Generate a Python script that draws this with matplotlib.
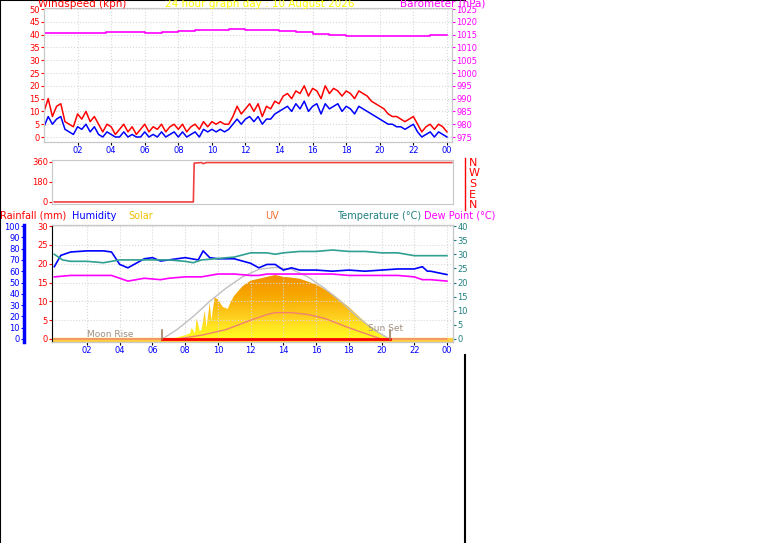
import numpy as np
import matplotlib.pyplot as plt
from matplotlib.colors import LinearSegmentedColormap

# ---- data ----
wind_hours = np.arange(0, 24.01, 0.25)
wind_gust = [10, 15, 8, 12, 13, 6, 5, 4, 9, 7, 10, 6, 8, 5, 2, 5, 4, 1, 3, 5, 2, 4, 1, 3, 5, 2, 4, 3, 5, 2,
             4, 5, 3, 5, 2, 4, 5, 3, 6, 4, 6, 5, 6, 5, 5, 8, 12, 9, 11, 13, 10, 13, 8, 12, 11, 14, 13, 16, 17, 15,
             18, 17, 20, 16, 19, 18, 15, 20, 17, 19, 18, 16, 18, 17, 15, 18, 17, 16, 14, 13, 12, 11, 9, 8, 8, 7,
             6, 7, 8, 5, 2, 4, 5, 3, 5, 4, 2]
wind_speed = [4, 8, 5, 7, 8, 3, 2, 1, 4, 3, 5, 2, 4, 1, 0, 2, 1, 0, 0, 2, 0, 1, 0, 0, 2, 0, 1, 0, 2, 0,
              1, 2, 0, 2, 0, 1, 2, 0, 3, 2, 3, 2, 3, 2, 3, 5, 7, 5, 7, 8, 6, 8, 5, 7, 7, 9, 10, 11, 12, 10,
              13, 11, 14, 10, 12, 13, 9, 13, 11, 12, 13, 10, 12, 11, 9, 12, 11, 10, 9, 8, 7, 6, 5, 5, 4, 4,
              3, 4, 5, 2, 0, 1, 2, 0, 2, 1, 0]
baro_hours = [0, 3.5, 3.7, 6, 7, 8, 9, 10, 11, 12, 13, 14, 15, 16, 17, 18, 19, 20, 21, 22, 23, 24]
baro = [1015.6, 1015.6, 1016, 1015.6, 1016, 1016.5, 1016.9, 1017, 1017.3, 1016.9, 1016.8, 1016.3, 1016, 1015.4,
        1014.9, 1014.6, 1014.5, 1014.3, 1014.3, 1014.6, 1014.9, 1014.9]

dir_hours = [0, 8.5, 8.55, 9.0, 9.1, 9.3, 24.3]
wind_dir = [0, 0, 350, 355, 345, 355, 355]

hum_hours = [0, 0.4, 1, 2, 3, 3.5, 4, 4.5, 5, 5.5, 6, 6.5, 7, 8, 8.8, 9.1, 9.5, 10, 11, 12, 12.5, 13,
             13.5, 14, 14.5, 15, 16, 17, 18, 19, 20, 21, 22, 22.5, 22.8, 23, 24]
humidity = [64, 74, 77, 78, 78, 77, 66, 63, 67, 71, 72, 69, 70, 72, 70, 78, 72, 71, 71, 67, 63, 66,
            66, 61, 63, 61, 61, 60, 61, 60, 61, 62, 62, 64, 60, 60, 57]
temp_hours = [0, 0.5, 1, 2, 3, 4, 5, 6, 7, 8, 8.5, 9, 10, 11, 12, 13, 13.5, 14, 15, 16, 17, 18, 19,
              20, 21, 22, 23, 24]
temperature = [30, 28, 27.5, 27.5, 27, 28, 28, 28, 28, 27.5, 27, 28, 28.5, 29, 30.5, 30.5, 30, 30.5, 31,
               31, 31.5, 31, 31, 30.5, 30.5, 29.5, 29.5, 29.5]
dew_hours = [0, 1, 2, 3, 3.5, 4.5, 5.5, 6.5, 7, 8, 9, 10, 11, 12, 12.5, 13, 14, 15, 16, 17, 18, 19,
             20, 21, 22, 22.5, 23, 24]
dewpoint = [22, 22.5, 22.5, 22.5, 22.5, 20.5, 21.5, 21, 21.5, 22, 22, 23, 23, 22.5, 22.5, 23, 23, 23,
            23, 23, 22.5, 22.5, 22.5, 22.5, 22, 21, 21, 20.5]
solar_hours = [0, 6.8, 7.5, 8, 8.3, 8.4, 8.6, 8.7, 8.9, 9.0, 9.2, 9.3, 9.5, 9.6, 9.8, 10, 10.3, 10.6,
               10.8, 11, 11.5, 12, 12.5, 13, 13.5, 14, 14.5, 15, 16, 17, 18, 19, 20, 20.4, 24]
solar = [0, 0, 0.4, 1, 1.5, 3, 1.5, 5.5, 2, 2.5, 7.5, 3, 9.5, 5, 11, 10.5, 8.5, 8, 10, 11.5, 14, 15.5,
         16, 16.5, 17, 16.5, 16.3, 16, 14.5, 12, 8.5, 4.5, 1.2, 0, 0]
sunmax_hours = [6.6, 7.5, 8.5, 9.5, 10.5, 11.5, 12.5, 13.5, 14.5, 15.5, 16.5, 17.5, 18.5, 19.5, 20.5]
sunmax = [0, 2.5, 6, 10, 13.5, 16.5, 18.5, 19, 18.5, 16.5, 13.5, 10, 6, 2.5, 0]
uv_hours = [0, 7.5, 9, 10.5, 12, 13, 13.5, 14.5, 15.5, 16.5, 18, 19.3, 20, 24]
uv = [0, 0, 1, 2.5, 5, 6.5, 7, 7, 6.5, 5.5, 3, 1, 0, 0]
sunrise, sunset = 6.6, 20.5
hour_ticks = list(range(2, 25, 2))
hour_labels = ["%02d" % (h % 24) for h in hour_ticks]

W, H = 761, 543
fig = plt.figure(figsize=(W / 100, H / 100), dpi=100)
fig.patch.set_facecolor("white")
plt.rcParams["font.family"] = ["DejaVu Sans"]


def box(l, t, r, b):
    return [l / W, 1 - b / H, (r - l) / W, (b - t) / H]


def style(ax, col):
    ax.tick_params(axis="both", labelsize=6, length=2, pad=1)
    for s in ax.spines.values():
        s.set_color("#c8c8c8")
    ax.grid(True, color="#d8d8d8", linestyle=":", linewidth=0.8)
    ax.set_xticks(hour_ticks)
    ax.set_xticklabels(hour_labels, color="blue")
    ax.tick_params(axis="y", colors=col, labelcolor=col)


# top panel: wind + barometer
ax1 = fig.add_axes(box(44, 8, 452, 142))
ax1.set_xlim(0, 24.3)
ax1.set_ylim(-1.95, 50.4)
style(ax1, "red")
ax1.set_yticks(range(0, 51, 5))
ax1.plot(wind_hours, wind_gust, color="red", lw=1.1)
ax1.plot(wind_hours, wind_speed, color="blue", lw=1.1)
axb = ax1.twinx()
axb.set_ylim(975 - 1.95, 975 + 50.4)
axb.set_yticks(range(975, 1026, 5))
axb.tick_params(axis="y", labelsize=6, length=2, pad=1, colors="magenta", labelcolor="magenta")
axb.plot(baro_hours, baro, color="magenta", lw=1.2, drawstyle="steps-post")
for s in axb.spines.values():
    s.set_color("#c8c8c8")

fig.text(38 / W, 1 - 4 / H, "Windspeed (kph)", color="red", fontsize=7.5, va="center")
fig.text(260 / W, 1 - 4 / H, "24 hour graph day : 10 August 2026", color="yellow", fontsize=7.5,
         va="center", ha="center")
fig.text(400 / W, 1 - 4 / H, "Barometer (hPa)", color="magenta", fontsize=7.5, va="center")

# wind direction panel
ax2 = fig.add_axes(box(52, 160, 453, 204))
ax2.set_xlim(-0.14, 24.37)
ax2.set_ylim(-18.5, 378)
style(ax2, "red")
ax2.grid(False)
ax2.set_xticks([])
ax2.set_yticks([0, 180, 360])
ax2.plot(dir_hours, wind_dir, color="#f04040", lw=1.2)
fig.add_artist(plt.Line2D([465 / W, 465 / W], [1 - 158 / H, 1 - 210 / H], color="red", lw=1))
for i, c in enumerate("NWSEN"):
    fig.text(469 / W, 1 - (163 + i * 10.5) / H, c, color="red", fontsize=8, va="center")

# bottom panel
ax3 = fig.add_axes(box(52, 225, 453, 342))
ax3.set_xlim(-0.14, 24.37)
ax3.set_ylim(-0.8, 30.27)
style(ax3, "red")
ax3.set_yticks(range(0, 31, 5))
poly = ax3.fill_between(solar_hours, 0, solar, color="none", lw=0)
cmap = LinearSegmentedColormap.from_list("sol", ["#ffff20", "#ffd020", "#f8a800", "#f09000"])
grad = np.linspace(0, 1, 100).reshape(-1, 1)
img = ax3.imshow(grad, extent=[-0.14, 24.37, 0, 17], origin="lower", aspect="auto", cmap=cmap, zorder=1)
img.set_clip_path(poly.get_paths()[0], transform=ax3.transData)
ax3.plot(sunmax_hours, sunmax, color="#c0c0c0", lw=1, zorder=2)
ax3.plot(uv_hours, uv, color="#f08070", lw=1, zorder=3)
ax3.axhspan(-0.8, 0.2, color="#ffd040", zorder=2)
ax3.plot([sunrise, sunset], [0, 0], color="red", lw=2, zorder=4)
for h in (sunrise, sunset):
    ax3.plot([h, h], [0, 2.5], color="#a08060", lw=1.2, zorder=4)
ax3.text(2.0, 0.4, "Moon Rise", color="#a09080", fontsize=6.5, zorder=5)
ax3.text(19.2, 2.2, "Sun Set", color="#a09080", fontsize=6.5, zorder=5)
ax3.set_xlim(-0.14, 24.37)
ax3.set_ylim(-0.8, 30.27)

axh = ax3.twinx()
axh.set_ylim(-0.8 * 100 / 30, 30.27 * 100 / 30)
axh.yaxis.set_ticks_position("left")
axh.spines["left"].set_position(("outward", 20))
axh.spines["left"].set_color("blue")
axh.spines["left"].set_linewidth(2.5)
axh.set_yticks(range(0, 101, 10))
axh.tick_params(axis="y", labelsize=6, length=2, pad=1, colors="blue", labelcolor="blue")
axh.plot(hum_hours, humidity, color="blue", lw=1.2)

axt = ax3.twinx()
axt.set_ylim(-0.8 * 40 / 30, 30.27 * 40 / 30)
axt.set_yticks(range(0, 41, 5))
axt.tick_params(axis="y", labelsize=6, length=2, pad=1, colors="#208080", labelcolor="#208080")
axt.plot(temp_hours, temperature, color="#30a090", lw=1.2)
axt.plot(dew_hours, dewpoint, color="magenta", lw=1.2)
for a in (axh, axt):
    for k in ("top", "right", "bottom"):
        a.spines[k].set_color("#c8c8c8")

for x, s, c in [(0, "Rainfall (mm)", "red"), (72, "Humidity", "blue"), (128, "Solar", "#f0c000"),
                (265, "UV", "#f07030"), (337, "Temperature (°C)", "#208080"),
                (424, "Dew Point (°C)", "magenta")]:
    fig.text(x / W, 1 - 216 / H, s, color=c, fontsize=7, va="center")

# frame lines
for xs, ys in [([0, 0], [0, 1]), ([465 / W, 465 / W], [0, 1 - 355 / H]), ([0, 465 / W], [1, 1])]:
    fig.add_artist(plt.Line2D(xs, ys, color="black", lw=1.5))

fig.savefig("out.png", dpi=100)
